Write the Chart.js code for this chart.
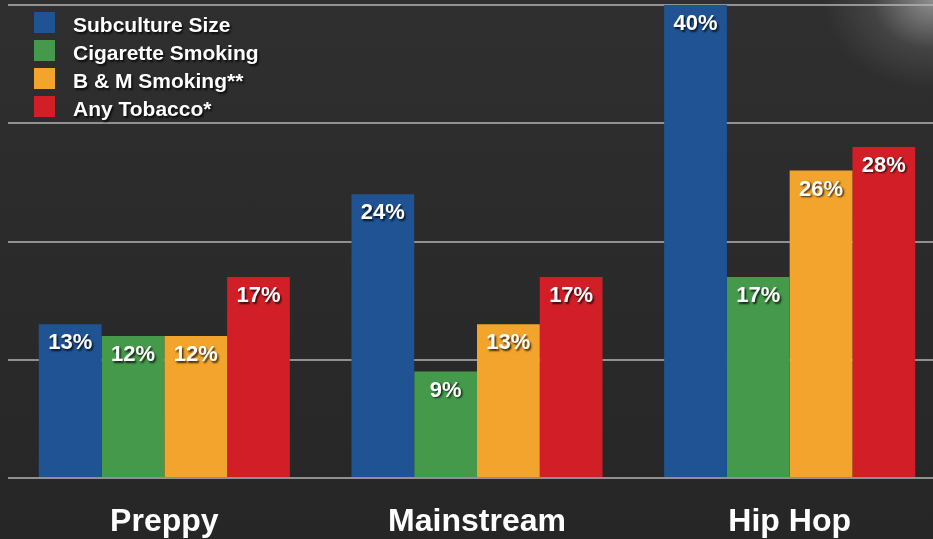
<!DOCTYPE html>
<html>
<head>
<meta charset="utf-8">
<script src="https://cdn.jsdelivr.net/npm/chart.js@4"></script>
<style>
  html,body{margin:0;padding:0;}
  body{
    width:933px;height:539px;overflow:hidden;
    background:
      radial-gradient(ellipse 110px 90px at 933px 0px, rgba(220,220,220,0.55), rgba(160,160,160,0.18) 55%, rgba(0,0,0,0) 100%),
      linear-gradient(#2f2f2f,#262626);
  }
  #wrap{position:relative;width:950px;height:539px;}
  canvas{display:block;}
</style>
</head>
<body>
<div id="wrap"><canvas id="subChart" width="950" height="539"></canvas></div>
<script>
// groups and series
const groups=['Preppy','Mainstream','Hip Hop'];
const subcultureSize=[13,24,40];
const cigaretteSmoking=[12,9,17];
const bmSmoking=[12,13,26];
const anyTobacco=[17,17,28];
const seriesNames=['Subculture Size','Cigarette Smoking','B & M Smoking**','Any Tobacco*'];
const seriesColors=['#1f5394','#44994a','#f3a42c','#d21f27'];
const yTicks=[0,10,20,30,40];

const FONT='"Liberation Sans", Arial, Helvetica, sans-serif';

// percent labels inside the top of each bar + legend block in the upper left
const overlay={
  id:'overlay',
  afterDatasetsDraw(chart){
    const c=chart.ctx;
    c.save();
    c.shadowColor='rgba(0,0,0,0.75)';
    c.shadowOffsetX=1.5;c.shadowOffsetY=1.5;c.shadowBlur=2;
    c.fillStyle='#fff';
    c.font='bold 22px '+FONT;
    c.textAlign='center';c.textBaseline='middle';
    chart.data.datasets.forEach((ds,i)=>{
      chart.getDatasetMeta(i).data.forEach((bar,j)=>{
        c.fillText(ds.data[j]+'%',bar.x,bar.y+19);
      });
    });
    // legend
    c.font='bold 21px '+FONT;
    c.textAlign='left';c.textBaseline='alphabetic';
    chart.data.datasets.forEach((ds,i)=>{
      const y=12+i*28;
      c.shadowColor='rgba(0,0,0,0)';
      c.fillStyle=ds.backgroundColor;
      c.fillRect(34,y,21,21);
      c.shadowColor='rgba(0,0,0,0.75)';
      c.fillStyle='#fff';
      c.fillText(ds.label,73,y+20);
    });
    c.restore();
  }
};

const ctx=document.getElementById('subChart').getContext('2d');
new Chart(ctx,{
  type:'bar',
  data:{
    labels:groups,
    datasets:[subcultureSize,cigaretteSmoking,bmSmoking,anyTobacco].map((d,i)=>({
      label:seriesNames[i],
      data:d,
      backgroundColor:seriesColors[i],
      borderWidth:0,
      categoryPercentage:0.803,
      barPercentage:1.0
    }))
  },
  options:{
    responsive:false,
    animation:false,
    devicePixelRatio:1,
    layout:{padding:{left:8,right:4,top:5,bottom:0}},
    plugins:{legend:{display:false},tooltip:{enabled:false}},
    scales:{
      x:{
        grid:{display:false},
        border:{display:false},
        ticks:{color:'#fff',font:{family:FONT,size:32,weight:700},padding:17},
        afterFit:s=>{s.height=61;}
      },
      y:{
        min:0,max:40,
        afterBuildTicks:s=>{s.ticks=yTicks.map(v=>({value:v}));},
        ticks:{display:false},
        border:{display:false},
        grid:{color:'rgba(180,180,180,0.75)',lineWidth:2,drawTicks:false},
        afterFit:s=>{s.width=0;}
      }
    }
  },
  plugins:[overlay]
});
</script>
</body>
</html>
